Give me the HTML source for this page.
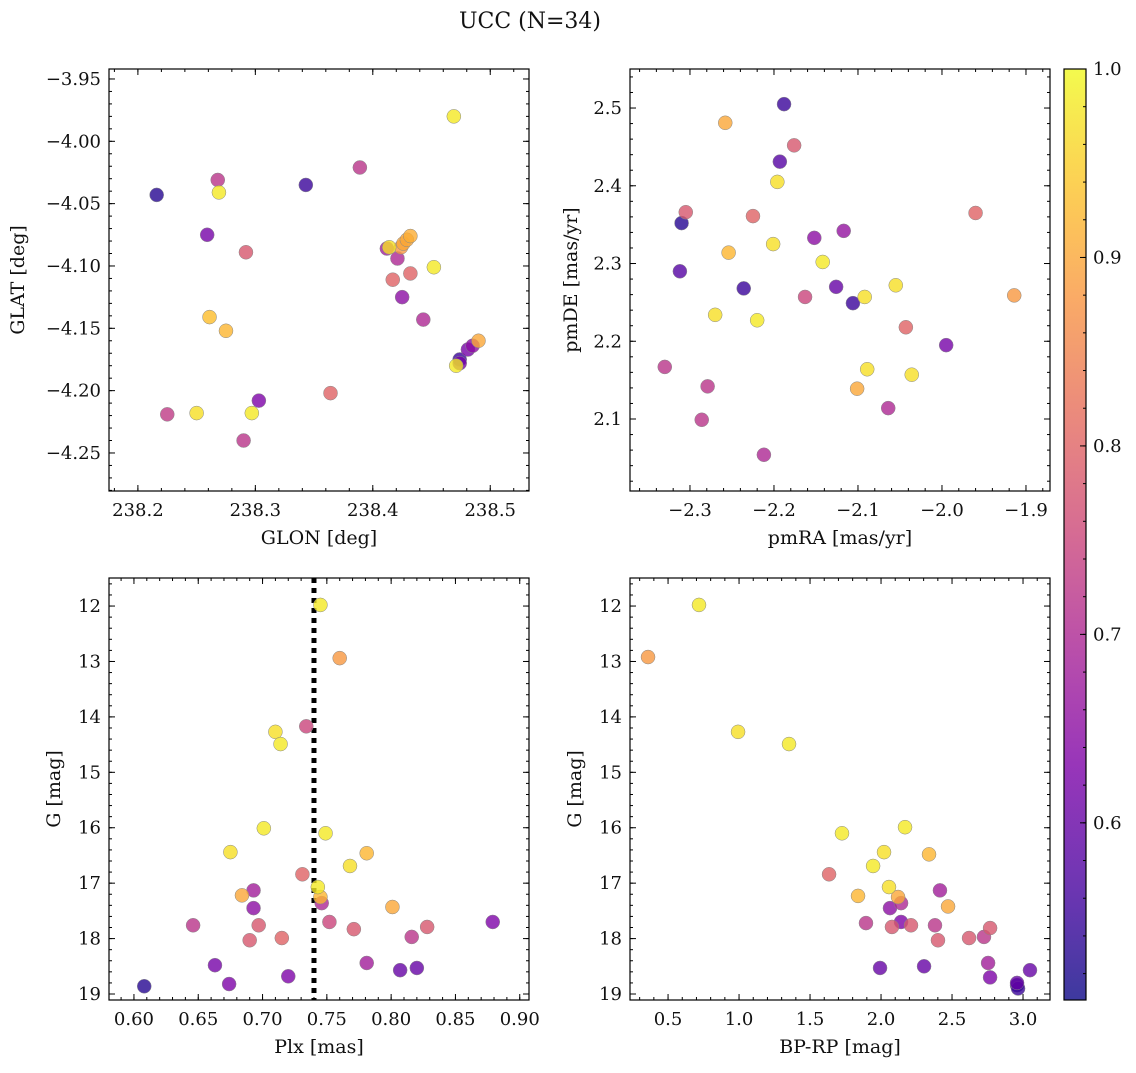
<!DOCTYPE html>
<html><head><meta charset="utf-8"><style>
body{margin:0;background:#fff;width:1136px;height:1068px;overflow:hidden}
svg text{font-family:"DejaVu Serif","Liberation Serif",serif;fill:#111}
</style></head><body>
<svg id="fig" width="1136" height="1068" xmlns="http://www.w3.org/2000/svg">
<text x="530" y="28" font-size="22" text-anchor="middle">UCC (N=34)</text>
</svg>
<script>
// ---- data ----
const glon=[238.216,238.268,238.269,238.259,238.292,238.343,238.389,238.469,238.261,238.275,238.225,238.250,238.297,238.303,238.290,238.364,238.412,238.414,238.426,238.424,238.429,238.432,238.421,238.417,238.425,238.432,238.452,238.443,238.474,238.471,238.481,238.485,238.490,238.474];
const glat=[-4.043,-4.031,-4.041,-4.075,-4.089,-4.035,-4.021,-3.980,-4.141,-4.152,-4.219,-4.218,-4.218,-4.208,-4.240,-4.202,-4.086,-4.085,-4.082,-4.085,-4.079,-4.076,-4.094,-4.111,-4.125,-4.106,-4.101,-4.143,-4.175,-4.180,-4.167,-4.164,-4.160,-4.178];
const probA=[0.53,0.72,0.98,0.62,0.78,0.55,0.72,0.98,0.93,0.92,0.73,0.97,0.98,0.63,0.72,0.80,0.68,0.97,0.90,0.88,0.90,0.91,0.70,0.80,0.65,0.80,0.98,0.70,0.55,0.98,0.62,0.65,0.90,0.62];
const pmra=[-2.188,-2.258,-2.176,-2.193,-2.196,-2.310,-2.305,-2.225,-2.312,-2.236,-2.254,-2.201,-2.152,-2.117,-2.142,-2.126,-2.106,-2.163,-2.092,-2.055,-2.220,-2.270,-1.960,-1.914,-2.043,-1.995,-2.089,-2.036,-2.101,-2.064,-2.330,-2.279,-2.286,-2.212];
const pmde=[2.505,2.481,2.452,2.431,2.405,2.352,2.366,2.361,2.290,2.268,2.314,2.325,2.333,2.342,2.302,2.270,2.249,2.257,2.257,2.272,2.227,2.234,2.365,2.259,2.218,2.195,2.164,2.157,2.139,2.114,2.167,2.142,2.099,2.054];
const probB=[0.55,0.90,0.78,0.58,0.97,0.53,0.78,0.80,0.58,0.55,0.92,0.97,0.65,0.66,0.98,0.60,0.55,0.75,0.97,0.97,0.98,0.97,0.80,0.88,0.80,0.62,0.97,0.97,0.90,0.70,0.72,0.72,0.72,0.70];
const plx=[0.745,0.760,0.734,0.710,0.714,0.701,0.675,0.749,0.768,0.781,0.731,0.743,0.745,0.684,0.693,0.746,0.693,0.801,0.646,0.697,0.752,0.771,0.715,0.690,0.816,0.828,0.879,0.781,0.663,0.807,0.820,0.720,0.674,0.608];
const gC=[11.98,12.94,14.17,14.27,14.49,16.01,16.44,16.10,16.69,16.46,16.84,17.07,17.25,17.22,17.13,17.36,17.45,17.43,17.76,17.76,17.70,17.83,17.99,18.03,17.97,17.79,17.70,18.44,18.48,18.57,18.53,18.68,18.82,18.86];
const probC=[0.98,0.88,0.75,0.97,0.98,0.98,0.97,0.98,0.97,0.92,0.80,0.98,0.92,0.90,0.68,0.70,0.65,0.90,0.72,0.78,0.75,0.78,0.80,0.78,0.72,0.78,0.63,0.68,0.62,0.60,0.60,0.63,0.63,0.53];
const bprp=[0.718,0.359,0.993,1.352,1.725,2.169,1.634,1.944,2.021,2.338,2.056,1.838,2.120,2.141,2.415,2.472,2.063,1.894,2.141,2.380,2.077,2.211,2.768,2.620,2.401,2.725,2.754,1.993,2.303,2.768,3.049,2.958,2.965,2.958];
const gD=[11.98,12.92,14.27,14.49,16.10,15.99,16.84,16.69,16.44,16.48,17.07,17.23,17.25,17.36,17.13,17.42,17.45,17.72,17.70,17.76,17.79,17.76,17.81,17.99,18.03,17.97,18.44,18.53,18.50,18.70,18.57,18.84,18.90,18.80];
const probD=[0.98,0.88,0.97,0.98,0.98,0.98,0.80,0.98,0.97,0.92,0.97,0.92,0.90,0.70,0.68,0.90,0.65,0.72,0.63,0.72,0.78,0.78,0.78,0.78,0.78,0.72,0.68,0.60,0.60,0.63,0.60,0.53,0.55,0.60];
const plxLine=0.740;
const cbTicks=[0.6,0.7,0.8,0.9,1.0];
const VMIN=0.506, VMAX=1.0;

const NS="http://www.w3.org/2000/svg";
const fig=document.getElementById('fig');
const TFS=18, LFS=19;
function mk(tag,attrs,parent){const e=document.createElementNS(NS,tag);for(const k in attrs)e.setAttribute(k,attrs[k]);(parent||fig).appendChild(e);return e;}
const stops=[[0,[13,8,135]],[0.125,[75,3,161]],[0.25,[125,3,168]],[0.375,[168,34,150]],[0.5,[203,70,121]],[0.625,[229,107,93]],[0.75,[248,148,65]],[0.875,[253,195,40]],[1,[240,249,33]]];
function plasma(t){t=Math.max(0,Math.min(1,t));for(let i=1;i<stops.length;i++){if(t<=stops[i][0]){const a=stops[i-1],b=stops[i];const f=(t-a[0])/(b[0]-a[0]);const c=a[1].map((v,j)=>Math.round(v+(b[1][j]-v)*f));return `rgb(${c})`;}}return 'rgb(240,249,33)';}
function col(p){return plasma((p-VMIN)/(VMAX-VMIN));}
function fmt(v,d){let s=v.toFixed(d);return s.replace('-','\u2212');}

function panel(o){
  const {x0,y0,w,h,xmin,xmax,ymin,ymax,invY}=o;
  const g=mk('g',{});
  
  
  const sx=v=>x0+(v-xmin)/(xmax-xmin)*w;
  const sy=v=>invY? y0+(v-ymin)/(ymax-ymin)*h : y0+h-(v-ymin)/(ymax-ymin)*h;
  for(let k=Math.ceil(xmin/o.xminor-1e-6);k*o.xminor<=xmax+1e-9;k++){const X=sx(k*o.xminor);mk('line',{x1:X,x2:X,y1:y0+h,y2:y0+h-3,stroke:'#000','stroke-width':1},g);mk('line',{x1:X,x2:X,y1:y0,y2:y0+3,stroke:'#000','stroke-width':1},g);}
  const lo=Math.min(ymin,ymax),hi=Math.max(ymin,ymax);
  for(let k=Math.ceil(lo/o.yminor-1e-6);k*o.yminor<=hi+1e-9;k++){const Y=sy(k*o.yminor);mk('line',{x1:x0,x2:x0+3,y1:Y,y2:Y,stroke:'#000','stroke-width':1},g);mk('line',{x1:x0+w,x2:x0+w-3,y1:Y,y2:Y,stroke:'#000','stroke-width':1},g);}
  o.xticks.forEach(v=>{const X=sx(v);mk('line',{x1:X,x2:X,y1:y0+h,y2:y0+h-6,stroke:'#000','stroke-width':1},g);mk('line',{x1:X,x2:X,y1:y0,y2:y0+6,stroke:'#000','stroke-width':1},g);
    const t=mk('text',{x:X,y:y0+h+25,'font-size':TFS,'text-anchor':'middle'},g);t.textContent=fmt(v,o.xd);
    
    });
  o.yticks.forEach(v=>{const Y=sy(v);mk('line',{x1:x0,x2:x0+6,y1:Y,y2:Y,stroke:'#000','stroke-width':1},g);mk('line',{x1:x0+w,x2:x0+w-6,y1:Y,y2:Y,stroke:'#000','stroke-width':1},g);
    const t=mk('text',{x:x0-8,y:Y+6,'font-size':TFS,'text-anchor':'end'},g);t.textContent=fmt(v,o.yd);
    
    });
  const xl=mk('text',{x:x0+w/2,y:y0+h+53,'font-size':LFS,'text-anchor':'middle'},g);xl.textContent=o.xlabel;
  
  
  const ylx=o.ylx, yly=y0+h/2;
  const yl=mk('text',{x:ylx,y:yly,'font-size':LFS,'text-anchor':'middle',transform:`rotate(-90 ${ylx} ${yly})`},g);yl.textContent=o.ylabel;
  
  
  if(o.vline!==undefined){const X=sx(o.vline);const l=mk('line',{x1:X,x2:X,y1:y0,y2:y0+h,stroke:'#000','stroke-width':5,'stroke-dasharray':'5,5'},g);
    
    }
  const idx=o.xs.map((_,i)=>i).sort((a,b)=>o.ps[a]-o.ps[b]);
  idx.forEach(i=>{const c=mk('circle',{cx:sx(o.xs[i]),cy:sy(o.ys[i]),r:7,fill:col(o.ps[i]),'fill-opacity':0.8,stroke:'#888','stroke-width':0.5},g);
    
    });
  mk('rect',{x:x0,y:y0,width:w,height:h,fill:'none',stroke:'#000','stroke-width':1.2},g);
}
panel({name:'glon-glat-panel',x0:109,y0:69,w:420,h:422,xmin:238.1754,xmax:238.533,ymin:-4.2805,ymax:-3.942,xs:glon,ys:glat,ps:probA,xticks:[238.2,238.3,238.4,238.5],xd:1,yticks:[-3.95,-4.0,-4.05,-4.1,-4.15,-4.2,-4.25],yd:2,xminor:0.02,yminor:0.01,xlabel:'GLON [deg]',ylabel:'GLAT [deg]',ylx:24});
panel({name:'pm-panel',x0:630,y0:69,w:420,h:422,xmin:-2.3714,xmax:-1.8714,ymin:2.0074,ymax:2.5502,xs:pmra,ys:pmde,ps:probB,xticks:[-2.3,-2.2,-2.1,-2.0,-1.9],xd:1,yticks:[2.1,2.2,2.3,2.4,2.5],yd:1,xminor:0.02,yminor:0.02,xlabel:'pmRA [mas/yr]',ylabel:'pmDE [mas/yr]',ylx:577});
panel({name:'plx-g-panel',x0:109,y0:578,w:420,h:422,xmin:0.5806,xmax:0.9072,ymin:11.494,ymax:19.108,invY:true,xs:plx,ys:gC,ps:probC,xticks:[0.6,0.65,0.7,0.75,0.8,0.85,0.9],xd:2,yticks:[12,13,14,15,16,17,18,19],yd:0,xminor:0.01,yminor:0.2,xlabel:'Plx [mas]',ylabel:'G [mag]',ylx:60,vline:plxLine});
panel({name:'cmd-panel',x0:630,y0:578,w:420,h:422,xmin:0.232,xmax:3.19,ymin:11.494,ymax:19.108,invY:true,xs:bprp,ys:gD,ps:probD,xticks:[0.5,1.0,1.5,2.0,2.5,3.0],xd:1,yticks:[12,13,14,15,16,17,18,19],yd:0,xminor:0.1,yminor:0.2,xlabel:'BP-RP [mag]',ylabel:'G [mag]',ylx:581});

const cb=mk('g',{});


const defs=mk('defs',{},cb);
const lg=mk('linearGradient',{id:'cbg',x1:0,y1:1,x2:0,y2:0},defs);
for(let i=0;i<=20;i++){mk('stop',{offset:i/20,'stop-color':plasma(i/20),'stop-opacity':0.8},lg);}
const cbx=1064,cby=69,cbw=22,cbh=931;
mk('rect',{x:cbx,y:cby,width:cbw,height:cbh,fill:'url(#cbg)',stroke:'#000','stroke-width':1.2},cb);
const cy=v=>cby+cbh-(v-VMIN)/(VMAX-VMIN)*cbh;
for(let k=26;k<=50;k++){const v=k*0.02;mk('line',{x1:cbx+cbw,x2:cbx+cbw-3,y1:cy(v),y2:cy(v),stroke:'#000'},cb);}
cbTicks.forEach(v=>{const Y=cy(v);mk('line',{x1:cbx+cbw,x2:cbx+cbw-6,y1:Y,y2:Y,stroke:'#000'},cb);
  const t=mk('text',{x:cbx+cbw+7,y:Y+6,'font-size':TFS},cb);t.textContent=v.toFixed(1);
  
  });
</script>
</body></html>
